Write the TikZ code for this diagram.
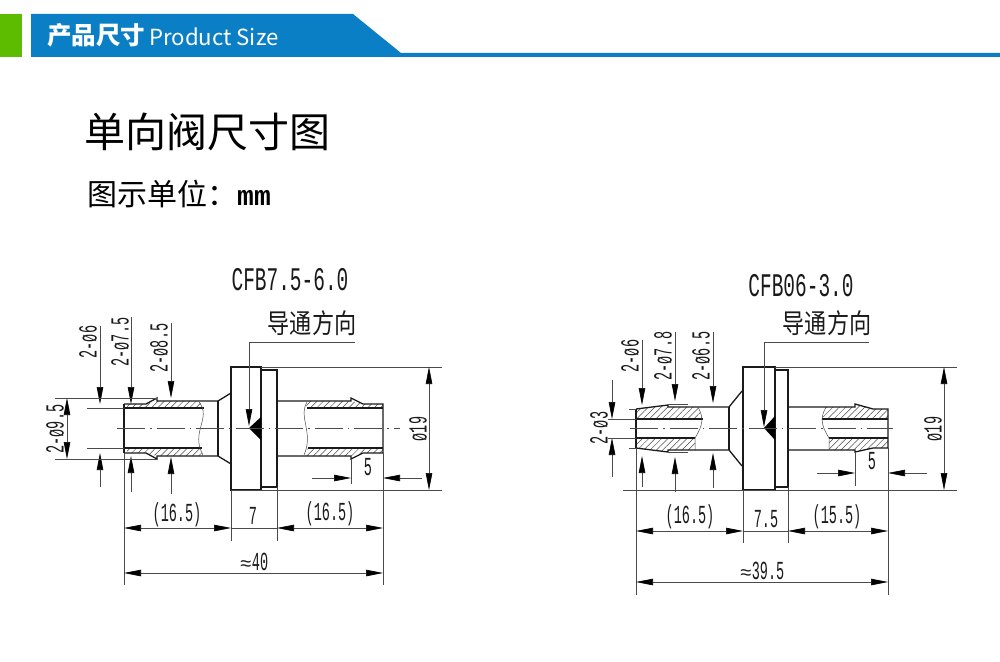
\documentclass[tikz,border=0pt]{standalone}
\usepackage{fontspec}
\usetikzlibrary{arrows.meta,patterns.meta}
\setmainfont{Liberation Sans}
\newfontfamily\cjk{Noto Sans CJK SC}
\newfontfamily\dimfont{Liberation Mono}
\newcommand{\dimtxt}[1]{\scalebox{.52}[1]{\dimfont\fontsize{26}{26}\selectfont #1}}
\newcommand{\nametxt}[1]{\scalebox{.59}[1]{\dimfont\fontsize{33}{33}\selectfont #1}}
\newcommand{\dirtxt}{\scalebox{.82}[1]{\cjk\fontsize{27}{27}\selectfont 导通方向}}
\newcommand{\abouttxt}{{\dimfont\fontsize{20}{20}\selectfont ≈}}
\definecolor{barblue}{HTML}{0B7FC6}
\definecolor{bargreen}{HTML}{5DBB00}
\definecolor{inkline}{HTML}{1A1A1A}
\definecolor{thinline}{HTML}{4A4A4A}
\tikzset{
  part/.style={draw=inkline,line width=1.3pt,line join=miter},
  thinpart/.style={draw=thinline,line width=.5pt},
  hatched/.style={pattern={Lines[angle=45,distance=4.5pt,line width=.5pt]},pattern color=thinline},
  dimline/.style={draw=thinline,line width=.6pt,>={Triangle[length=17pt,width=6.5pt,color=black]}},
  midline/.style={draw=thinline,line width=.4pt,dash pattern=on 28pt off 5pt on 1.5pt off 5pt},
  dimlabel/.style={inner sep=0pt,text=inkline},
}
\begin{document}
\begin{tikzpicture}[x=1pt,y=-1pt]
    \useasboundingbox (0,0) rectangle (1000,661);

    % header bar
    \fill[bargreen] (0,14) rectangle (22,57);
    \fill[barblue] (31,14) -- (353,14) -- (401,53) -- (1000,53) -- (1000,57) -- (31,57) -- cycle;
    \node (barcn) [anchor=west,inner sep=0pt,text=white] at (47,35) {\cjk\bfseries\fontsize{24.5}{25}\selectfont 产品尺寸};
    \node (baren) [anchor=west,inner sep=0pt,text=white] at (149,37) {\cjk\fontsize{22.2}{24}\selectfont Product Size};

    % titles
    \node (title) [anchor=west,inner sep=0pt,text=black] at (84,132) {\cjk\fontsize{41}{41}\selectfont 单向阀尺寸图};
    \node (unit) [anchor=west,inner sep=0pt,text=black] at (87,194) {\cjk\fontsize{30}{30}\selectfont 图示单位：\dimfont\bfseries\fontsize{28}{28}\selectfont mm};

    % left valve: hatching
    \path[hatched] (127,404) -- (146,404) -- (157,401) -- (199,401) -- (204,408) -- (127,408) -- cycle;
    \path[hatched] (127,448) -- (201,448) -- (203,456) -- (157,456) -- (146,453) -- (127,453) -- cycle;
    \path[hatched] (307,401) -- (351,401) -- (363,404) -- (383,404) -- (383,408) -- (306,408) -- cycle;
    \path[hatched] (308,448) -- (383,448) -- (383,453) -- (363,453) -- (351,456) -- (304,456) -- cycle;

    % left valve: outline
    \draw[part] (124,404) -- (146,404) -- (157,398) -- (157,401) -- (218,401) -- (231,393);
    \draw[part] (124,453) -- (146,453) -- (157,459) -- (157,456) -- (218,456) -- (231,464);
    \draw[part] (124,404) -- (124,453);
    \draw[part] (218,401) -- (218,456);
    \draw[part] (231,367) rectangle (261,490);
    \draw[part] (261,370) rectangle (277,487);
    \draw[part] (277,401) -- (351,401) -- (351,398) -- (363,404) -- (383,404) -- (383,453) -- (363,453) -- (351,459) -- (351,456) -- (277,456);
    \draw[part] (124,408) -- (204,408);
    \draw[part] (124,448) -- (202,448);
    \draw[part] (307,408) -- (383,408);
    \draw[part] (308,448) -- (383,448);
    \draw[thinpart] (199,402) .. controls (212,418) and (190,432) .. (203,455);
    \draw[thinpart] (307,402) .. controls (298,418) and (314,432) .. (304,455);
    \fill[black] (249,428) -- (261,417) -- (261,440) -- cycle;
    \draw[midline] (117,428.5) -- (400,428.5);

    % left valve: dimensions
    \node (lname) [dimlabel] at (290,280) {\nametxt{CFB7.5-6.0}};
    \node (ldir) [dimlabel] at (312,323) {\dirtxt};
    \draw[dimline,->] (355,342) -- (249,342) -- (249,426);
    \node (lsix) [dimlabel,rotate=90] at (88,342) {\dimtxt{2-ø6}};
    \draw[dimline,->] (100,326) -- (100,404);
    \draw[dimline,->] (100,487) -- (100,453);
    \node (lseven) [dimlabel,rotate=90] at (120,342) {\dimtxt{2-ø7.5}};
    \draw[dimline,->] (131,317) -- (131,404);
    \draw[dimline,->] (131,492) -- (131,456);
    \node (leight) [dimlabel,rotate=90] at (159,348) {\dimtxt{2-ø8.5}};
    \draw[dimline,->] (171,323) -- (171,398);
    \draw[dimline,->] (171,494) -- (171,457);
    \node (lnine) [dimlabel,rotate=90] at (55,429) {\dimtxt{2-ø9.5}};
    \draw[dimline] (55,398) -- (157,398);
    \draw[dimline] (55,459) -- (157,459);
    \draw[dimline] (87,408) -- (124,408);
    \draw[dimline] (87,448) -- (124,448);
    \draw[dimline,<->] (67,398) -- (67,459);
    \draw[dimline] (261,367) -- (442,367);
    \draw[dimline] (231,490) -- (442,490);
    \draw[dimline,<->] (429,367) -- (429,490);
    \node (lbody) [dimlabel,rotate=90] at (418,429) {\dimtxt{ø19}};
    \node (lfive) [dimlabel] at (368,467) {\dimtxt{5}};
    \draw[dimline] (351,459) -- (351,484);
    \draw[dimline,->] (312,478) -- (351,478);
    \draw[dimline,->] (422,478) -- (383,478);
    \draw[dimline] (124,453) -- (124,585);
    \draw[dimline] (383,453) -- (383,585);
    \draw[dimline] (231,490) -- (231,541);
    \draw[dimline] (277,487) -- (277,541);
    \draw[dimline,<->] (124,528) -- (231,528);
    \draw[dimline] (231,528) -- (277,528);
    \draw[dimline,<->] (277,528) -- (383,528);
    \draw[dimline,<->] (124,573) -- (383,573);
    \node (lleft) [dimlabel] at (177,515) {\dimtxt{(16.5)}};
    \node (lmid) [dimlabel] at (253,516) {\dimtxt{7}};
    \node (lright) [dimlabel] at (330,514) {\dimtxt{(16.5)}};
    \node (ltotal) [dimlabel] at (254,562) {\abouttxt\dimtxt{40}};

    % right valve: hatching
    \path[hatched] (636,409) -- (668,405) -- (668,407) -- (698,407) -- (702,419) -- (636,419) -- cycle;
    \path[hatched] (636,438) -- (695,438) -- (695,450) -- (668,450) -- (668,452) -- (636,448) -- cycle;
    \path[hatched] (826,407) -- (855,407) -- (855,404) -- (873,409) -- (888,409) -- (888,419) -- (822,419) -- cycle;
    \path[hatched] (829,438) -- (888,438) -- (888,448) -- (873,448) -- (855,452) -- (855,450) -- (829,450) -- cycle;

    % right valve: outline
    \draw[part] (636,409) -- (668,405) -- (668,407) -- (729,407) -- (742,391);
    \draw[part] (636,448) -- (668,452) -- (668,450) -- (729,450) -- (742,466);
    \draw[part] (636,409) -- (636,448);
    \draw[part] (729,407) -- (729,450);
    \draw[part] (743,367) rectangle (775,490);
    \draw[part] (775,370) rectangle (788,487);
    \draw[part] (788,407) -- (855,407) -- (855,404) -- (873,409) -- (888,409) -- (888,448) -- (873,448) -- (855,452) -- (855,450) -- (788,450);
    \draw[part] (636,419) -- (703,419);
    \draw[part] (636,438) -- (695,438);
    \draw[part] (822,419) -- (888,419);
    \draw[part] (829,438) -- (888,438);
    \draw[thinpart] (698,407) .. controls (704,418) and (703,425) .. (695,438) -- (695,450);
    \draw[thinpart] (826,407) .. controls (820,418) and (821,425) .. (829,438) -- (829,450);
    \fill[black] (764,428) -- (775,416) -- (775,440) -- cycle;
    \draw[midline] (630,428.5) -- (893,428.5);

    % right valve: dimensions
    \node (rname) [dimlabel] at (801,286) {\nametxt{CFB06-3.0}};
    \node (rdir) [dimlabel] at (827,323) {\dirtxt};
    \draw[dimline,->] (869,342) -- (764,342) -- (764,427);
    \node (rsix) [dimlabel,rotate=90] at (630,356) {\dimtxt{2-ø6}};
    \draw[dimline,->] (642,340) -- (642,405);
    \draw[dimline,->] (642,487) -- (642,456);
    \node (rseven) [dimlabel,rotate=90] at (663,356) {\dimtxt{2-ø7.8}};
    \draw[dimline,->] (675,332) -- (675,401);
    \draw[dimline,->] (675,492) -- (675,457);
    \node (rfour) [dimlabel,rotate=90] at (701,356) {\dimtxt{2-ø6.5}};
    \draw[dimline,->] (713,332) -- (713,403);
    \draw[dimline,->] (713,488) -- (713,453);
    \node (rthree) [dimlabel,rotate=90] at (599,428) {\dimtxt{2-ø3}};
    \draw[dimline,->] (612,380) -- (612,419);
    \draw[dimline,->] (612,477) -- (612,438);
    \draw[dimline] (608,419) -- (636,419);
    \draw[dimline] (608,438) -- (636,438);
    \draw[dimline] (629,409) -- (636,409);
    \draw[dimline] (629,448) -- (636,448);
    \draw[dimline] (668,404) -- (688,404);
    \draw[dimline] (668,452) -- (688,452);
    \draw[dimline] (775,367) -- (957,367);
    \draw[dimline] (623,490) -- (957,490);
    \draw[dimline,<->] (944,367) -- (944,490);
    \node (rbody) [dimlabel,rotate=90] at (933,429) {\dimtxt{ø19}};
    \node (rfive) [dimlabel] at (872,461) {\dimtxt{5}};
    \draw[dimline] (855,452) -- (855,486);
    \draw[dimline,->] (817,473) -- (855,473);
    \draw[dimline,->] (927,473) -- (888,473);
    \draw[dimline] (636,448) -- (636,595);
    \draw[dimline] (888,448) -- (888,595);
    \draw[dimline] (743,490) -- (743,543);
    \draw[dimline] (788,487) -- (788,543);
    \draw[dimline,<->] (636,531) -- (743,531);
    \draw[dimline] (743,531) -- (788,531);
    \draw[dimline,<->] (788,531) -- (888,531);
    \draw[dimline,<->] (636,582) -- (888,582);
    \node (rleft) [dimlabel] at (690,517) {\dimtxt{(16.5)}};
    \node (rmid) [dimlabel] at (766,519) {\dimtxt{7.5}};
    \node (rright) [dimlabel] at (837,517) {\dimtxt{(15.5)}};
    \node (rtotal) [dimlabel] at (762,571) {\abouttxt\dimtxt{39.5}};
\end{tikzpicture}
\end{document}
